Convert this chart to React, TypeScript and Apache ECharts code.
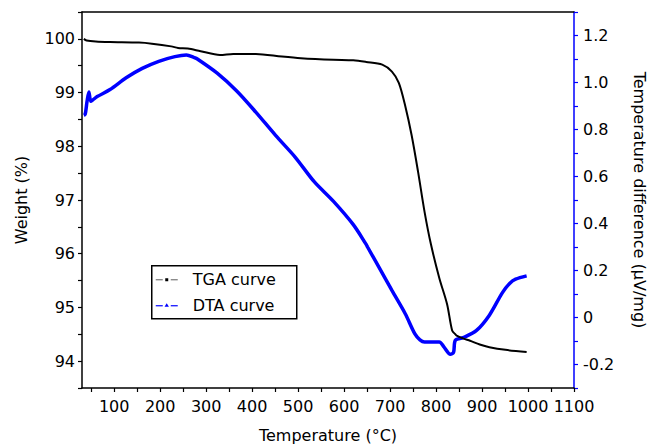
import React, { useEffect, useRef } from "react";
import * as echarts from "echarts";

// TGA curve: temperature (°C) and weight (%)
const tgaTemp = [34, 40, 60, 91, 154, 182, 224, 239, 260, 288, 330, 359, 408, 465, 506, 577, 620, 648, 683, 704, 719, 733, 747, 761, 775, 789, 807, 824, 835, 842, 846, 860, 874, 895, 916, 951, 997];
const tgaWeight = [100.0, 99.97, 99.95, 99.94, 99.93, 99.91, 99.86, 99.83, 99.82, 99.77, 99.7, 99.72, 99.72, 99.67, 99.64, 99.61, 99.6, 99.57, 99.52, 99.39, 99.18, 98.75, 98.2, 97.52, 96.78, 96.17, 95.55, 95.06, 94.57, 94.5, 94.47, 94.42, 94.38, 94.31, 94.26, 94.21, 94.17];

// DTA curve: temperature (°C) and temperature difference (µV/mg)
const dtaTemp = [34, 37, 41, 45, 49, 53, 63, 91, 126, 161, 197, 232, 257, 274, 281, 324, 366, 408, 451, 493, 535, 577, 620, 648, 651, 676, 704, 733, 754, 765, 775, 807, 817, 831, 838, 842, 859, 888, 916, 944, 960, 973, 997];
const dtaDiff = [0.86, 0.865, 0.92, 0.96, 0.92, 0.925, 0.94, 0.97, 1.02, 1.06, 1.09, 1.11, 1.117, 1.106, 1.1, 1.04, 0.965, 0.874, 0.775, 0.684, 0.578, 0.494, 0.395, 0.311, 0.3, 0.213, 0.115, 0.016, -0.07, -0.095, -0.104, -0.104, -0.125, -0.156, -0.148, -0.097, -0.086, -0.055, 0.01, 0.105, 0.145, 0.163, 0.177];

// Axis ticks and labels
const xTicks = [50, 100, 150, 200, 250, 300, 350, 400, 450, 500, 550, 600, 650, 700, 750, 800, 850, 900, 950, 1000, 1050, 1100];
const xLabels = [100, 200, 300, 400, 500, 600, 700, 800, 900, 1000, 1100];
const weightTicks = [93.5, 94, 94.5, 95, 95.5, 96, 96.5, 97, 97.5, 98, 98.5, 99, 99.5, 100, 100.5];
const weightLabels = [94, 95, 96, 97, 98, 99, 100];
const diffTicks = [-0.3, -0.2, -0.1, 0, 0.1, 0.2, 0.3, 0.4, 0.5, 0.6, 0.7, 0.8, 0.9, 1.0, 1.1, 1.2, 1.3];
const diffLabels = [-0.2, 0, 0.2, 0.4, 0.6, 0.8, 1.0, 1.2];

const FONT = "DejaVu Sans, Liberation Sans, Arial, sans-serif";

export default function App() {
  const ref = useRef<HTMLDivElement>(null);
  useEffect(() => {
    if (!ref.current) return;
    const chart = echarts.init(ref.current, undefined, { renderer: "svg" });
    const labelStyle = { color: "#000", fontSize: 16, fontFamily: FONT };
    chart.setOption({
      animation: false,
      backgroundColor: "#fff",
      grid: { left: 82, right: 68, top: 12, bottom: 57, containLabel: false },
      xAxis: [
        {
          type: "value",
          min: 30,
          max: 1100,
          position: "bottom",
          name: "Temperature (°C)",
          nameLocation: "middle",
          nameGap: 39,
          nameTextStyle: { color: "#000", fontSize: 16, fontFamily: FONT },
          axisLine: { show: true, onZero: false, lineStyle: { color: "#000", width: 1.5 } },
          axisTick: { show: true, inside: false, length: 4, customValues: xTicks, lineStyle: { color: "#000", width: 1.2 } },
          axisLabel: { ...labelStyle, margin: 10, customValues: xLabels, formatter: (v: number) => String(v) },
          splitLine: { show: false },
        },
        {
          type: "value",
          min: 30,
          max: 1100,
          position: "top",
          axisLine: { show: true, onZero: false, lineStyle: { color: "#000", width: 1.5 } },
          axisTick: { show: false },
          axisLabel: { show: false },
          splitLine: { show: false },
        },
      ],
      yAxis: [
        {
          type: "value",
          min: 93.5,
          max: 100.5,
          position: "left",
          name: "Weight (%)",
          nameLocation: "middle",
          nameGap: 53,
          nameTextStyle: { color: "#000", fontSize: 16, fontFamily: FONT },
          axisLine: { show: true, onZero: false, lineStyle: { color: "#000", width: 1.5 } },
          axisTick: { show: true, inside: false, length: 4, customValues: weightTicks, lineStyle: { color: "#000", width: 1.2 } },
          axisLabel: { ...labelStyle, margin: 7, customValues: weightLabels, formatter: (v: number) => String(v) },
          splitLine: { show: false },
        },
        {
          type: "value",
          min: -0.3,
          max: 1.3,
          position: "right",
          name: "Temperature difference (µV/mg)",
          nameLocation: "middle",
          nameRotate: -90,
          nameGap: 57,
          nameTextStyle: { color: "#000", fontSize: 16, fontFamily: FONT },
          axisLine: { show: true, onZero: false, lineStyle: { color: "#0000ff", width: 1.5 } },
          axisTick: { show: true, inside: false, length: 4, customValues: diffTicks, lineStyle: { color: "#0000ff", width: 1.2 } },
          axisLabel: {
            ...labelStyle,
            margin: 9,
            customValues: diffLabels,
            formatter: (v: number) => (Math.abs(v) < 1e-9 ? "0" : v.toFixed(1)),
          },
          splitLine: { show: false },
        },
      ],
      series: [
        {
          name: "TGA curve",
          type: "line",
          xAxisIndex: 0,
          yAxisIndex: 0,
          data: tgaTemp.map((t, i) => [t, tgaWeight[i]]),
          showSymbol: false,
          smooth: 0.3,
          lineStyle: { color: "#000", width: 2 },
          z: 3,
        },
        {
          name: "DTA curve",
          type: "line",
          xAxisIndex: 0,
          yAxisIndex: 1,
          data: dtaTemp.map((t, i) => [t, dtaDiff[i]]),
          showSymbol: false,
          smooth: 0.3,
          lineStyle: { color: "#0000ff", width: 3.5 },
          z: 2,
        },
      ],
      graphic: [
        {
          type: "group",
          left: 151,
          top: 265,
          children: [
            { type: "rect", shape: { x: 0, y: 0, width: 145, height: 53 }, style: { fill: "#fff", stroke: "#000", lineWidth: 1.5 } },
            { type: "line", shape: { x1: 4, y1: 14, x2: 11, y2: 14 }, style: { stroke: "#777", lineWidth: 1.2 } },
            { type: "line", shape: { x1: 19, y1: 14, x2: 26, y2: 14 }, style: { stroke: "#777", lineWidth: 1.2 } },
            { type: "rect", shape: { x: 13.5, y: 12.5, width: 3, height: 3 }, style: { fill: "#000" } },
            { type: "text", style: { x: 41, y: 14, text: "TGA curve", fill: "#000", fontSize: 16, fontFamily: FONT, verticalAlign: "middle" } },
            { type: "line", shape: { x1: 4, y1: 40, x2: 11, y2: 40 }, style: { stroke: "#0000ff", lineWidth: 1.2 } },
            { type: "line", shape: { x1: 19, y1: 40, x2: 26, y2: 40 }, style: { stroke: "#0000ff", lineWidth: 1.2 } },
            { type: "polygon", shape: { points: [[15, 37.5], [17.2, 41], [12.8, 41]] }, style: { fill: "#0000ff" } },
            { type: "text", style: { x: 41, y: 40, text: "DTA curve", fill: "#000", fontSize: 16, fontFamily: FONT, verticalAlign: "middle" } },
          ],
        },
      ],
    });
    return () => chart.dispose();
  }, []);
  return <div ref={ref} style={{ position: "absolute", left: 0, top: 0, width: 655, height: 448 }} />;
}
